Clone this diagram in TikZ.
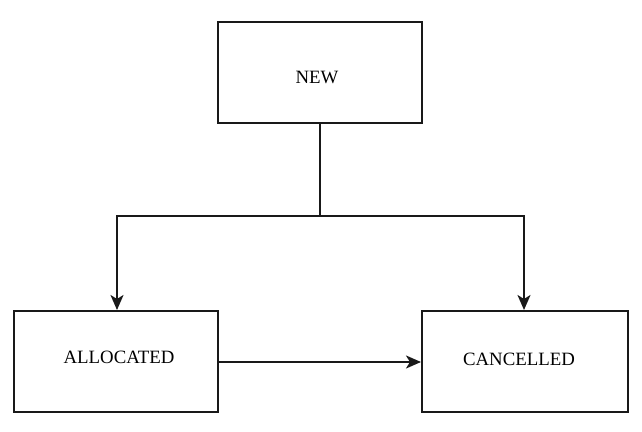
\documentclass[tikz,border=0pt]{standalone}
\usepackage{fontspec}
\setmainfont{Liberation Serif}
\usetikzlibrary{arrows.meta}
\begin{document}
\begin{tikzpicture}[x=1pt,y=1pt,
  statebox/.style={draw=black!90, line width=2pt, rectangle, inner sep=0pt,
    minimum width=204pt, minimum height=101pt},
  lbl/.style={font=\fontsize{18.8}{21}\selectfont},
  conn/.style={draw=black!90, line width=2pt},
  tip/.style={-{Stealth[length=15pt,width=13pt,inset=4pt]}}]
\useasboundingbox (0,0) rectangle (642,431);
\node[statebox] (new) at (320,358) {};
\node[statebox] (alloc) at (115.5,69.5) {};
\node[statebox, minimum width=206pt] (canc) at (525,69.5) {};
\node[lbl] (tnew) at (317,354) {NEW};
\node[lbl] (talloc) at (119,74) {ALLOCATED};
\node[lbl] (tcanc) at (519,72) {CANCELLED};
\coordinate (split) at (320,215);
\coordinate (lturn) at (117,215);
\coordinate (rturn) at (524,215);
\draw[conn] (new.south) -- (split);
\draw[conn, tip] (split) -- (lturn) -- (lturn |- alloc.north);
\draw[conn, tip] (split) -- (rturn) -- (rturn |- canc.north);
\draw[conn, tip] (alloc.east |- 0,69) -- (canc.west |- 0,69);
\end{tikzpicture}
\end{document}
